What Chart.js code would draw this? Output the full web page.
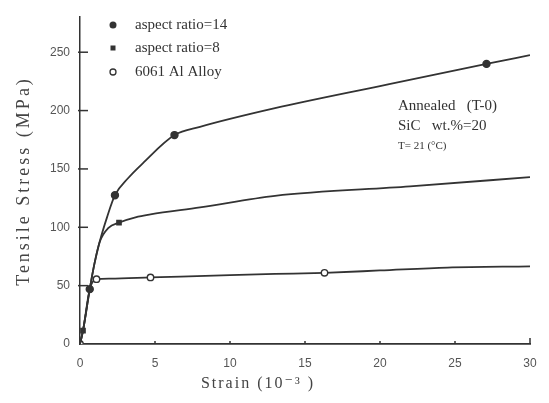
<!DOCTYPE html>
<html>
<head>
<meta charset="utf-8">
<script src="https://cdn.jsdelivr.net/npm/chart.js@4.4.0/dist/chart.umd.min.js"></script>
<style>
  html, body { margin: 0; padding: 0; background: #fff; }
  #wrap { width: 549px; height: 403px; }
</style>
</head>
<body>
<div id="wrap"><canvas id="chart"></canvas></div>
<script>
// data (strain in 10^-3, stress in MPa)
const strain14 = [0, 0.2, 0.65, 0.95, 1.3, 1.8, 2.33, 3.2, 4.2, 6.3, 8, 13, 20, 27.1, 30];
const stress14 = [0, 11.5, 47, 68, 87, 108.5, 127.5, 142, 155, 179, 186, 202, 221, 240, 247.5];
const marks14 = [0.65, 2.33, 6.3, 27.1];

const strain8 = [0, 0.2, 0.65, 0.95, 1.3, 1.9, 2.6, 3.7, 4.7, 8, 13, 22, 30];
const stress8 = [0, 11.5, 47, 68, 87, 99.5, 104, 108.5, 111, 117, 127, 135, 143];
const marks8 = [0.2, 2.6];

const strainAl = [0, 0.2, 0.65, 1.1, 2, 4.7, 10, 13, 16.3, 20, 24.5, 30];
const stressAl = [0, 11.5, 47, 55.5, 56, 57, 59, 60, 61, 63, 65.5, 66.5];
const marksAl = [0, 1.1, 4.7, 16.3];

const seriesNames = ['aspect ratio=14', 'aspect ratio=8', '6061 Al Alloy'];
const xTicks = [0, 5, 10, 15, 20, 25, 30];
const yTicks = [0, 50, 100, 150, 200, 250];
const noteLines = ['Annealed   (T-0)', 'SiC   wt.%=20', 'T= 21 (°C)'];

const INK = '#333';
const SERIF = "'Liberation Serif', 'DejaVu Serif', serif";

function toPoints(xs, ys) {
    return xs.map((x, i) => ({ x: x, y: ys[i] }));
}

function markRadius(marks, r) {
    return ctx => (ctx.raw && marks.includes(ctx.raw.x)) ? r : 0;
}

function makeSeries(label, xs, ys, marks, style, fill, r) {
    return {
        label: label,
        data: toPoints(xs, ys),
        showLine: true,
        cubicInterpolationMode: 'monotone',
        borderColor: INK,
        borderWidth: 1.8,
        pointStyle: style,
        pointBackgroundColor: fill,
        pointBorderColor: INK,
        pointBorderWidth: 1.4,
        pointRadius: markRadius(marks, r),
        pointHoverRadius: 0
    };
}

// legend, note text, inward ticks and axis titles
const decor = {
    id: 'decor',
    afterDraw(chart) {
        const ctx = chart.ctx;
        const xs = chart.scales.x, ys = chart.scales.y;
        ctx.save();
        ctx.strokeStyle = INK;
        ctx.lineWidth = 1.5;

        // inward y ticks
        yTicks.forEach(v => {
            if (v === 0) return;
            const py = ys.getPixelForValue(v);
            ctx.beginPath();
            ctx.moveTo(xs.left - 2, py);
            ctx.lineTo(xs.left + 8, py);
            ctx.stroke();
        });
        // tiny x ticks
        xTicks.forEach(v => {
            if (v === 0) return;
            const px = xs.getPixelForValue(v);
            ctx.beginPath();
            ctx.moveTo(px, ys.bottom);
            ctx.lineTo(px, ys.bottom - (v === 30 ? 6 : 3));
            ctx.stroke();
        });

        // legend
        const lx = 113, ly = [25, 48, 72];
        ctx.fillStyle = INK;
        ctx.beginPath(); ctx.arc(lx, ly[0], 3.5, 0, Math.PI * 2); ctx.fill();
        ctx.fillRect(lx - 2.5, ly[1] - 2.5, 5, 5);
        ctx.beginPath(); ctx.arc(lx, ly[2], 3, 0, Math.PI * 2);
        ctx.lineWidth = 1.3; ctx.stroke();

        ctx.font = '15px ' + SERIF;
        ctx.textBaseline = 'middle';
        ctx.textAlign = 'left';
        seriesNames.forEach((n, i) => ctx.fillText(n, 135, ly[i]));

        // note
        ctx.font = '15px ' + SERIF;
        ctx.fillText(noteLines[0], 398, 106);
        ctx.fillText(noteLines[1], 398, 126);
        ctx.font = '11px ' + SERIF;
        ctx.fillText(noteLines[2], 398, 146);

        // axis titles
        ctx.fillStyle = '#444';
        ctx.font = '18px ' + SERIF;
        ctx.letterSpacing = '3px';
        ctx.textAlign = 'center';
        ctx.save();
        ctx.translate(24, 181);
        ctx.rotate(-Math.PI / 2);
        ctx.fillText('Tensile Stress (MPa)', 0, 0);
        ctx.restore();
        ctx.font = '16px ' + SERIF;
        ctx.letterSpacing = '2px';
        ctx.fillText('Strain (10\u207B\u00B3 )', 258, 384);
        ctx.restore();
    }
};

new Chart(document.getElementById('chart'), {
    type: 'scatter',
    data: {
        datasets: [
            makeSeries(seriesNames[0], strain14, stress14, marks14, 'circle', INK, 3.5),
            makeSeries(seriesNames[1], strain8, stress8, marks8, 'rect', INK, 3),
            makeSeries(seriesNames[2], strainAl, stressAl, marksAl, 'circle', '#fff', 3.2)
        ]
    },
    options: {
        responsive: true,
        maintainAspectRatio: false,
        animation: false,
        layout: { padding: { top: 3, right: 19, left: 0, bottom: 0 } },
        plugins: { legend: { display: false }, tooltip: { enabled: false } },
        scales: {
            x: {
                type: 'linear', min: 0, max: 30,
                afterFit: s => { s.height = 59; },
                afterBuildTicks: s => { s.ticks = xTicks.map(v => ({ value: v })); },
                grid: { drawOnChartArea: false, drawTicks: false },
                border: { color: INK, width: 1.8 },
                ticks: { padding: 12, color: '#555', font: { family: "'Liberation Sans', sans-serif", size: 12 } }
            },
            y: {
                min: 0, max: 280,
                afterFit: s => { s.width = 80; },
                afterBuildTicks: s => { s.ticks = yTicks.map(v => ({ value: v })); },
                grid: { drawOnChartArea: false, drawTicks: false },
                border: { color: INK, width: 1.5 },
                ticks: { padding: 10, color: '#555', font: { family: "'Liberation Sans', sans-serif", size: 12 } }
            }
        }
    },
    plugins: [decor]
});
</script>
</body>
</html>
